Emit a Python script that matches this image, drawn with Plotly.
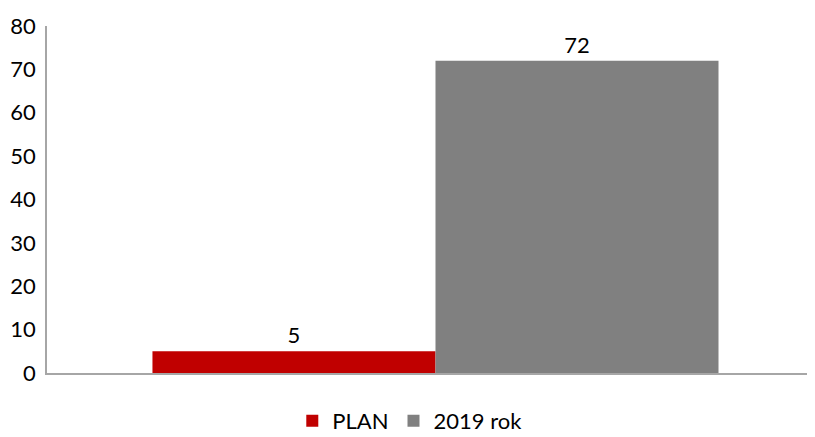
import plotly.graph_objects as go

categories = [""]
series_names = ["PLAN", "2019 rok"]
plan_values = [5]
rok_values = [72]
y_ticks = [0, 10, 20, 30, 40, 50, 60, 70, 80]

font_family = "Lato, 'Open Sans', sans-serif"

fig = go.Figure()
fig.add_trace(go.Bar(x=categories, y=plan_values, name=series_names[0],
                     marker=dict(color="#C00000", line=dict(width=0)),
                     text=[str(v) for v in plan_values], textposition="outside",
                     textfont=dict(size=22, color="#000000"), cliponaxis=False))
fig.add_trace(go.Bar(x=categories, y=rok_values, name=series_names[1],
                     marker=dict(color="#808080", line=dict(width=0)),
                     text=[str(v) for v in rok_values], textposition="outside",
                     textfont=dict(size=22, color="#000000"), cliponaxis=False))

fig.update_layout(
    width=815, height=437,
    margin=dict(l=39, r=9, t=18, b=72, autoexpand=False),
    barmode="group", bargap=0.262, bargroupgap=0,
    plot_bgcolor="white", paper_bgcolor="white",
    font=dict(family=font_family, size=22, color="#000000"),
    showlegend=True,
    legend=dict(orientation="h", x=0.473, xanchor="center", y=-0.078, yanchor="top",
                font=dict(size=22), itemwidth=30, traceorder="normal"),
    xaxis=dict(range=[-0.5065, 0.4935], showline=True, linecolor="#A6A6A6", linewidth=1.5,
               showticklabels=False, ticks="", showgrid=False, zeroline=False,
               automargin=False),
    yaxis=dict(range=[0, 80], tickvals=y_ticks, showline=True, linecolor="#A6A6A6",
               linewidth=1.5, showgrid=False, zeroline=False, ticks="",
               tickfont=dict(size=22), ticklabelstandoff=5, automargin=False),
)

fig.write_html("out.html")
